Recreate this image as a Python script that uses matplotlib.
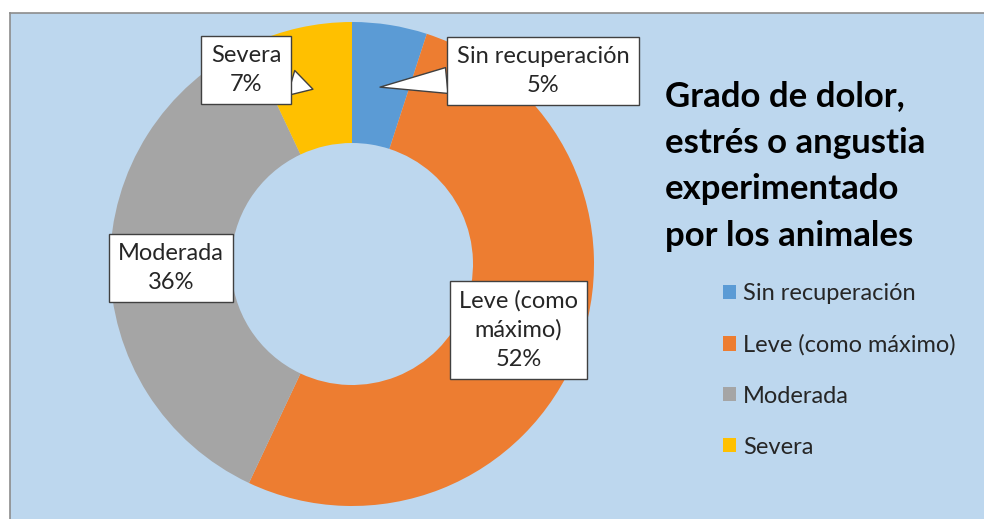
import numpy as np
import matplotlib
matplotlib.use("Agg")
import matplotlib.pyplot as plt
from matplotlib.patches import Patch

plt.rcParams['font.family'] = ['Lato', 'DejaVu Sans']

categories = ['Sin recuperación', 'Leve (como máximo)', 'Moderada', 'Severa']
box_labels = ['Sin recuperación', 'Leve (como\nmáximo)', 'Moderada', 'Severa']
values = [5, 52, 36, 7]
colors = ['#5B9BD5', '#ED7D31', '#A5A5A5', '#FFC000']
title = 'Grado de dolor,\nestrés o angustia\nexperimentado\npor los animales'

W, H = 984, 519
fig = plt.figure(figsize=(W / 100, H / 100), dpi=100)
fig.patch.set_facecolor('white')

# chart area background (right and bottom edges cut off by the screenshot)
bg = fig.add_axes([10 / W, 0, 1 - 10 / W, (H - 13) / H])
bg.set_facecolor('#BDD7EE')
bg.set_xticks([])
bg.set_yticks([])
for side, s in bg.spines.items():
    s.set_color('#8C8C8C')
    s.set_linewidth(1.2)
    if side in ('right', 'bottom'):
        s.set_visible(False)

# pie axes: centre (352, 264) px, radius 242 px
cx, cy, R = 352, 264, 242
ax = fig.add_axes([(cx - R) / W, (H - cy - R) / H, 2 * R / W, 2 * R / H])

wedges, _ = ax.pie(values, colors=colors, startangle=90, counterclock=False,
                   radius=1, wedgeprops=dict(width=0.5, edgecolor='none'))
ax.set_xlim(-1, 1)
ax.set_ylim(-1, 1)
ax.axis('off')


def px(x, y):
    return ((x - cx) / R, (cy - y) / R)


fs = 17
box = dict(boxstyle='square,pad=0.4', facecolor='white', edgecolor='#404040', lw=1)
total = sum(values)
mids = []
start = 90
for v in values:
    ang = start - v / total * 360 / 2
    mids.append(np.deg2rad(ang))
    start -= v / total * 360

r_mid = 0.74
# text positions of the label boxes (pixels)
label_pos = [(543, 71), None, (171, 268), (246, 70)]
for i, (lab, v) in enumerate(zip(box_labels, values)):
    target = (r_mid * np.cos(mids[i]), r_mid * np.sin(mids[i]))
    txt = f'{lab}\n{v}%'
    if label_pos[i] is None:
        ax.text(target[0], target[1], txt, ha='center', va='center', fontsize=fs,
                bbox=box, linespacing=1.45, color='#262626')
    elif i == 2:
        ax.text(*px(*label_pos[i]), txt, ha='center', va='center', fontsize=fs,
                bbox=box, linespacing=1.45, color='#262626')
    else:
        ax.annotate(txt, xy=target, xytext=px(*label_pos[i]), ha='center', va='center',
                    fontsize=fs, bbox=box, linespacing=1.45, color='#262626',
                    arrowprops=dict(arrowstyle='wedge,tail_width=1.1,shrink_factor=0.5',
                                    facecolor='white', edgecolor='#404040', lw=1,
                                    shrinkA=0, shrinkB=0))

fig.text(665 / W, (H - 80) / H, title, ha='left', va='top', fontsize=25,
         fontweight='bold', linespacing=1.56, color='black')

handles = [Patch(facecolor=c, edgecolor='none') for c in colors]
fig.legend(handles, categories, loc='upper left', bbox_to_anchor=(702 / W, (H - 262) / H),
           frameon=False, fontsize=fs, handlelength=0.55, handleheight=0.55,
           handletextpad=0.3, labelspacing=1.27, labelcolor='#262626')

fig.savefig('out.png', dpi=100)
